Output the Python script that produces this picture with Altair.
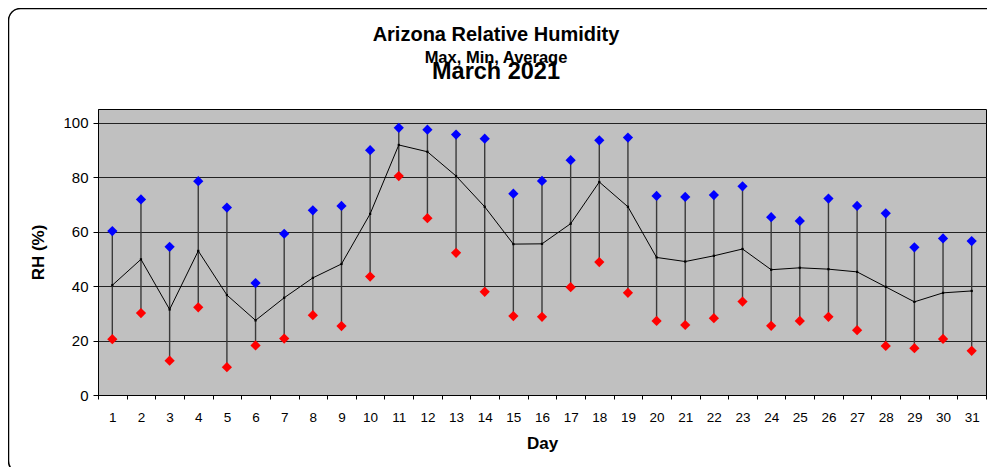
import altair as alt
import pandas as pd

days = list(range(1, 32))
rh_max = [60.2, 71.8, 54.4, 78.5, 68.8, 41.1, 59.2, 67.8, 69.4, 89.9,
          98.1, 97.4, 95.6, 94.1, 73.9, 78.6, 86.2, 93.5, 94.5, 73.1,
          72.7, 73.4, 76.6, 65.3, 63.9, 72.1, 69.4, 66.7, 54.2, 57.5, 56.5]
rh_min = [20.5, 30.1, 12.6, 32.2, 10.2, 18.2, 20.7, 29.3, 25.3, 43.5,
          80.4, 64.9, 52.2, 37.9, 29.0, 28.7, 39.6, 48.8, 37.5, 27.2,
          25.7, 28.2, 34.3, 25.4, 27.2, 28.7, 23.8, 18.0, 17.2, 20.6, 16.2]
rh_avg = [40.3, 49.8, 31.4, 52.9, 36.7, 27.4, 35.7, 43.0, 48.1, 66.5,
          91.8, 89.3, 80.4, 69.1, 55.4, 55.5, 62.9, 78.2, 69.1, 50.5,
          49.0, 51.1, 53.6, 46.0, 46.7, 46.2, 45.2, 39.7, 34.2, 37.5, 38.2]
y_ticks = [0, 20, 40, 60, 80, 100]

title_1 = "Arizona Relative Humidity"
title_2 = "Max, Min, Average"
title_3 = "March 2021"

df = pd.DataFrame({"day": days, "rh_max": rh_max, "rh_min": rh_min, "rh_avg": rh_avg})

FONT = "Liberation Sans"

xaxis = alt.Axis(title="Day", labelAngle=0, tickBand="extent", tickSize=4,
                 labelPadding=11, labelFontSize=13.5, titleFontSize=17,
                 titleFontWeight="bold", titleX=444, titleY=53,
                 titleBaseline="alphabetic", domainColor="black",
                 tickColor="black", grid=False, labelColor="black",
                 titleColor="black")
yaxis = alt.Axis(title="RH (%)", values=y_ticks, grid=True, gridColor="#222222",
                 gridWidth=1, tickSize=5, labelPadding=5, labelFontSize=15,
                 titleFontSize=17, titleFontWeight="bold", titleX=-60, titleY=143,
                 titleBaseline="middle", domainColor="black", tickColor="black",
                 labelColor="black", titleColor="black")
yscale = alt.Scale(domain=[0, 105], nice=False, zero=True)
xscale = alt.Scale(type="band", paddingInner=0, paddingOuter=0)

base = alt.Chart(df).encode(x=alt.X("day:O", scale=xscale, axis=xaxis))

rules = base.mark_rule(color="#3a3a3a", strokeWidth=1.4).encode(
    y=alt.Y("rh_min:Q", scale=yscale, axis=yaxis),
    y2="rh_max:Q",
)
avg_line = base.mark_line(color="black", strokeWidth=1).encode(
    y=alt.Y("rh_avg:Q", scale=yscale)
)
avg_pts = base.mark_square(color="black", size=5, opacity=1).encode(
    y=alt.Y("rh_avg:Q", scale=yscale)
)
max_pts = base.mark_point(shape="diamond", filled=True, color="#0000FF",
                          size=105, opacity=1).encode(
    y=alt.Y("rh_max:Q", scale=yscale)
)
min_pts = base.mark_point(shape="diamond", filled=True, color="#FF0000",
                          size=105, opacity=1).encode(
    y=alt.Y("rh_min:Q", scale=yscale)
)

frame = alt.Chart(pd.DataFrame({"k": [0]})).mark_rect(
    fillOpacity=0, stroke="black", strokeWidth=1.5, cornerRadius=12
).encode(x=alt.value(-89.5), x2=alt.value(905), y=alt.value(-100.5), y2=alt.value(364))

def title_text(txt, size, y):
    return alt.Chart(pd.DataFrame({"t": [txt]})).mark_text(
        font=FONT, fontSize=size, fontWeight="bold", color="black",
        align="center", baseline="alphabetic"
    ).encode(text="t:N", x=alt.value(398), y=alt.value(y))

t1 = title_text(title_1, 20, -68.5)
t2 = title_text(title_2, 16.5, -46.5)
t3 = title_text(title_3, 23.5, -30.5)

chart = alt.layer(frame, rules, avg_line, avg_pts, max_pts, min_pts, t1, t2, t3).properties(
    width=888,
    height=286,
    background="white",
    autosize=alt.AutoSizeParams(type="none"),
    padding={"left": 90, "top": 101, "right": 1, "bottom": 72},
).configure_view(
    fill="#C0C0C0", stroke="black", strokeWidth=1
).configure_axis(
    labelFont=FONT, titleFont=FONT
)

chart.save("out.html", embed_options={"renderer": "svg", "actions": False})
